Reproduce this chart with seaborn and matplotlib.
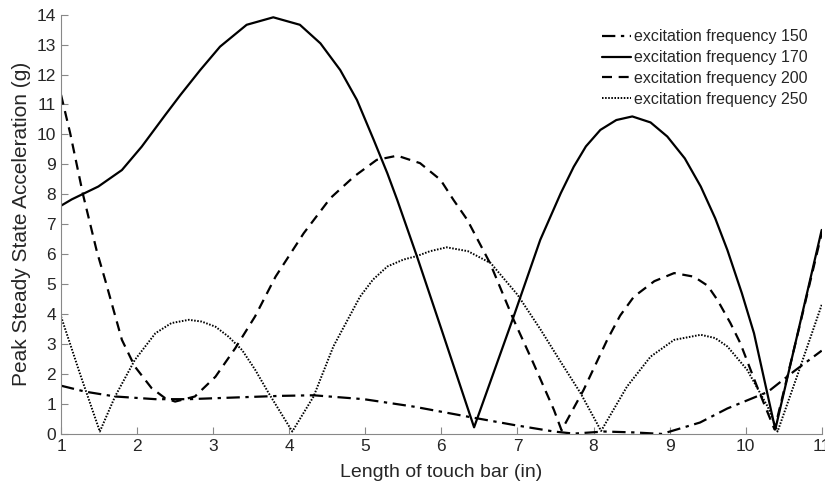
import matplotlib
matplotlib.use('Agg')
import matplotlib.pyplot as plt
import numpy as np
import pandas as pd
import seaborn as sns

# values
x150 = [1, 1.32, 1.71, 2.24, 2.68, 3.0, 3.33, 3.88, 4.32, 4.98, 5.64, 6.34, 6.95, 7.48, 7.74, 8.14, 8.53, 8.9, 9.4, 9.76, 10.29, 10.64, 11]
y150 = [1.61, 1.41, 1.25, 1.16, 1.16, 1.19, 1.22, 1.27, 1.29, 1.16, 0.91, 0.58, 0.30, 0.08, 0.01, 0.08, 0.05, 0.0, 0.38, 0.85, 1.4, 2.1, 2.78]

x170 = [1, 1.14, 1.49, 1.8, 2.06, 2.37, 2.57, 2.83, 3.09, 3.44, 3.79, 4.14, 4.41, 4.67, 4.89, 5.11, 5.29, 5.42, 5.68, 6.0, 6.43,
        6.7, 6.95, 7.3, 7.57, 7.74, 7.9, 8.09, 8.3, 8.51, 8.75, 8.97, 9.2, 9.41, 9.6, 9.76, 9.95, 10.11, 10.39, 10.7, 11]
y170 = [7.62, 7.83, 8.26, 8.81, 9.59, 10.65, 11.32, 12.15, 12.93, 13.66, 13.91, 13.66, 13.04, 12.15, 11.15, 9.82, 8.7, 7.81, 5.92, 3.5, 0.22,
        2.14, 3.92, 6.48, 8.04, 8.92, 9.6, 10.15, 10.48, 10.6, 10.4, 9.93, 9.2, 8.26, 7.2, 6.14, 4.7, 3.36, 0.15, 3.53, 6.81]

x200 = [1, 1.12, 1.29, 1.47, 1.58, 1.8, 1.97, 2.19, 2.37, 2.5, 2.76, 3.03, 3.29, 3.55, 3.82, 4.19, 4.54, 4.85, 5.15, 5.42, 5.72, 5.99, 6.16,
        6.34, 6.64, 6.95, 7.21, 7.48, 7.58, 7.87, 8.18, 8.35, 8.53, 8.8, 9.06, 9.32, 9.5, 9.63, 9.8, 9.93, 10.15, 10.38, 10.7, 11]
y200 = [11.32, 10.04, 7.98, 6.1, 5.14, 3.14, 2.25, 1.53, 1.19, 1.08, 1.25, 1.91, 2.86, 3.92, 5.25, 6.7, 7.87, 8.59, 9.15, 9.29, 9.04, 8.48, 7.81,
        7.15, 5.7, 3.81, 2.36, 0.8, 0.12, 1.47, 3.14, 3.95, 4.58, 5.1, 5.37, 5.25, 4.95, 4.47, 3.7, 3.03, 1.58, 0.15, 3.5, 6.7]

x250 = [1, 1.25, 1.51, 1.71, 1.97, 2.24, 2.45, 2.68, 2.85, 3.03, 3.2, 3.38, 3.55, 3.73, 4.04, 4.32, 4.58, 4.93, 5.1, 5.29, 5.5, 5.68, 5.85,
        6.07, 6.35, 6.65, 7.0, 7.3, 7.57, 7.83, 8.1, 8.44, 8.75, 9.06, 9.41, 9.6, 9.76, 10.02, 10.29, 10.42, 10.7, 11]
y250 = [3.92, 2.0, 0.08, 1.25, 2.47, 3.36, 3.7, 3.81, 3.75, 3.58, 3.25, 2.8, 2.15, 1.36, 0.08, 1.25, 2.92, 4.58, 5.15, 5.59, 5.82, 5.94, 6.1,
        6.23, 6.1, 5.7, 4.65, 3.5, 2.4, 1.36, 0.1, 1.58, 2.58, 3.14, 3.31, 3.2, 2.92, 2.14, 0.91, 0.08, 2.1, 4.31]

labels = ['excitation frequency 150', 'excitation frequency 170',
          'excitation frequency 200', 'excitation frequency 250']
xticks = list(range(1, 12))
yticks = list(range(0, 15))

sns.set_theme(style='ticks')
plt.rcParams['font.family'] = ['Liberation Sans', 'DejaVu Sans']
plt.rcParams['xtick.direction'] = 'in'
plt.rcParams['ytick.direction'] = 'in'

fig = plt.figure(figsize=(8.25, 4.87), dpi=100)
ax = fig.add_axes([0.074, 0.109, 0.922, 0.861])

series = [(x150, y150, labels[0], (0, (6, 2.5, 1.5, 2.5)), 1.6),
          (x170, y170, labels[1], '-', 1.6),
          (x200, y200, labels[2], (0, (4.5, 3)), 1.6),
          (x250, y250, labels[3], (0, (0.8, 0.8)), 1.4)]

for xs, ys, lab, ls, lw in series:
    df = pd.DataFrame({'x': xs, 'y': ys})
    sns.lineplot(data=df, x='x', y='y', ax=ax, color='black', linestyle=ls,
                 linewidth=lw, label=lab, sort=False, estimator=None)

ax.set_xlim(1, 11)
ax.set_ylim(0, 14)
ax.set_xticks(xticks)
ax.set_yticks(yticks)
ax.set_xlabel('Length of touch bar (in)', fontsize=14, color='#262626', labelpad=7)
ax.set_ylabel('Peak Steady State Acceleration (g)', fontsize=15, color='#262626', labelpad=4)
ax.tick_params(axis='both', labelsize=12.5, colors='#888888', labelcolor='#262626', length=5, width=0.8)
for side in ['top', 'right']:
    ax.spines[side].set_visible(False)
for side in ['left', 'bottom']:
    ax.spines[side].set_color('#888888')
    ax.spines[side].set_linewidth(0.8)

leg = ax.legend(loc='upper right', frameon=False, fontsize=11.5, handlelength=1.8,
                handletextpad=0.2, labelspacing=0.36, borderaxespad=0,
                bbox_to_anchor=(0.99, 0.98))

fig.savefig('out.png', dpi=100)
